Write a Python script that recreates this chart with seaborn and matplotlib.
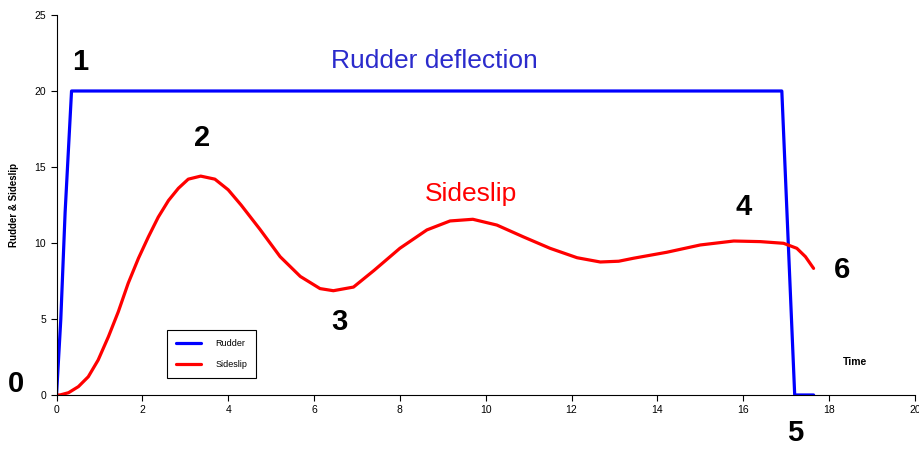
import matplotlib
matplotlib.use('Agg')
import matplotlib.pyplot as plt
import seaborn as sns
import pandas as pd

# Rudder deflection (step input then release)
rudder_t = [0.0, 0.1, 0.2, 0.35, 16.9, 17.05, 17.2, 17.64]
rudder_v = [0.0, 5.0, 12.0, 20.0, 20.0, 10.0, 0.0, 0.0]

# Sideslip response
slip_t = [0.0, 0.08, 0.28, 0.51, 0.74, 0.97, 1.21, 1.44, 1.67, 1.91, 2.14,
          2.37, 2.61, 2.84, 3.07, 3.36, 3.69, 4.0, 4.3, 4.74, 5.21, 5.68,
          6.14, 6.45, 6.92, 7.4, 8.0, 8.63, 9.17, 9.7, 10.26, 10.88, 11.5,
          12.13, 12.67, 13.1, 13.45, 14.22, 15.0, 15.78, 16.4, 16.94, 17.25,
          17.45, 17.64]
slip_v = [0.0, 0.0, 0.15, 0.55, 1.2, 2.3, 3.84, 5.48, 7.35, 9.0, 10.4,
          11.7, 12.8, 13.6, 14.2, 14.4, 14.2, 13.5, 12.5, 10.9, 9.1, 7.8,
          7.0, 6.86, 7.1, 8.2, 9.65, 10.86, 11.45, 11.56, 11.18, 10.4, 9.65,
          9.03, 8.75, 8.8, 9.0, 9.39, 9.87, 10.13, 10.09, 9.98, 9.65,
          9.1, 8.33]

# Numbered event labels: (text, x, y) in data units
markers = ['0', '1', '2', '3', '4', '5', '6']
marker_x = [-0.95, 0.55, 3.4, 6.6, 16.0, 17.2, 18.3]
marker_y = [0.75, 21.9, 16.9, 4.8, 12.4, -2.5, 8.2]

rudder_df = pd.DataFrame({'t': rudder_t, 'v': rudder_v})
slip_df = pd.DataFrame({'t': slip_t, 'v': slip_v})

sns.set_style('white')
plt.rcParams['font.family'] = ['Liberation Sans', 'DejaVu Sans']
plt.rcParams['text.color'] = 'black'

fig = plt.figure(figsize=(9.19, 4.49), dpi=100)
ax = fig.add_axes([0.0615, 0.1203, 0.934, 0.8463])

sns.lineplot(data=rudder_df, x='t', y='v', ax=ax, color='#0000FF', linewidth=2.3,
             label='Rudder', sort=False, solid_joinstyle='round')
sns.lineplot(data=slip_df, x='t', y='v', ax=ax, color='#FF0000', linewidth=2.3,
             label='Sideslip', sort=False, solid_joinstyle='round')

ax.set_xlim(0, 20)
ax.set_ylim(0, 25)
ax.set_xticks(range(0, 21, 2))
ax.set_yticks(range(0, 26, 5))
ax.tick_params(axis='both', direction='out', length=4, width=0.8, labelsize=7.5,
               colors='black', left=True, bottom=True)
for side in ['top', 'right']:
    ax.spines[side].set_visible(False)
for side in ['left', 'bottom']:
    ax.spines[side].set_color('black')
    ax.spines[side].set_linewidth(0.8)

ax.set_xlabel('')
ax.set_ylabel('Rudder & Sideslip', fontsize=7, fontweight='bold', labelpad=11,
              color='black')
ax.text(18.6, 2.2, 'Time', fontsize=7.5, fontweight='bold', ha='center', va='center')

ax.text(8.8, 21.95, 'Rudder deflection', color='#2B2BCC', fontsize=19,
        ha='center', va='center')
ax.text(9.65, 13.25, 'Sideslip', color='#FF0000', fontsize=19,
        ha='center', va='center')

for lab, x, y in zip(markers, marker_x, marker_y):
    ax.text(x, y, lab, fontsize=21, fontweight='bold', ha='center', va='center',
            color='black', clip_on=False)

leg = ax.legend(loc='upper left', bbox_to_anchor=(166.7 / 919, 1 - 330 / 449),
                bbox_transform=fig.transFigure, fontsize=6.5, frameon=True,
                fancybox=False, edgecolor='black', framealpha=1,
                handlelength=2.8, borderpad=1.0, labelspacing=1.3,
                handletextpad=1.6, borderaxespad=0)
leg.get_frame().set_linewidth(0.8)
for t in leg.get_texts():
    t.set_color('black')

fig.savefig('out.png', dpi=100)
